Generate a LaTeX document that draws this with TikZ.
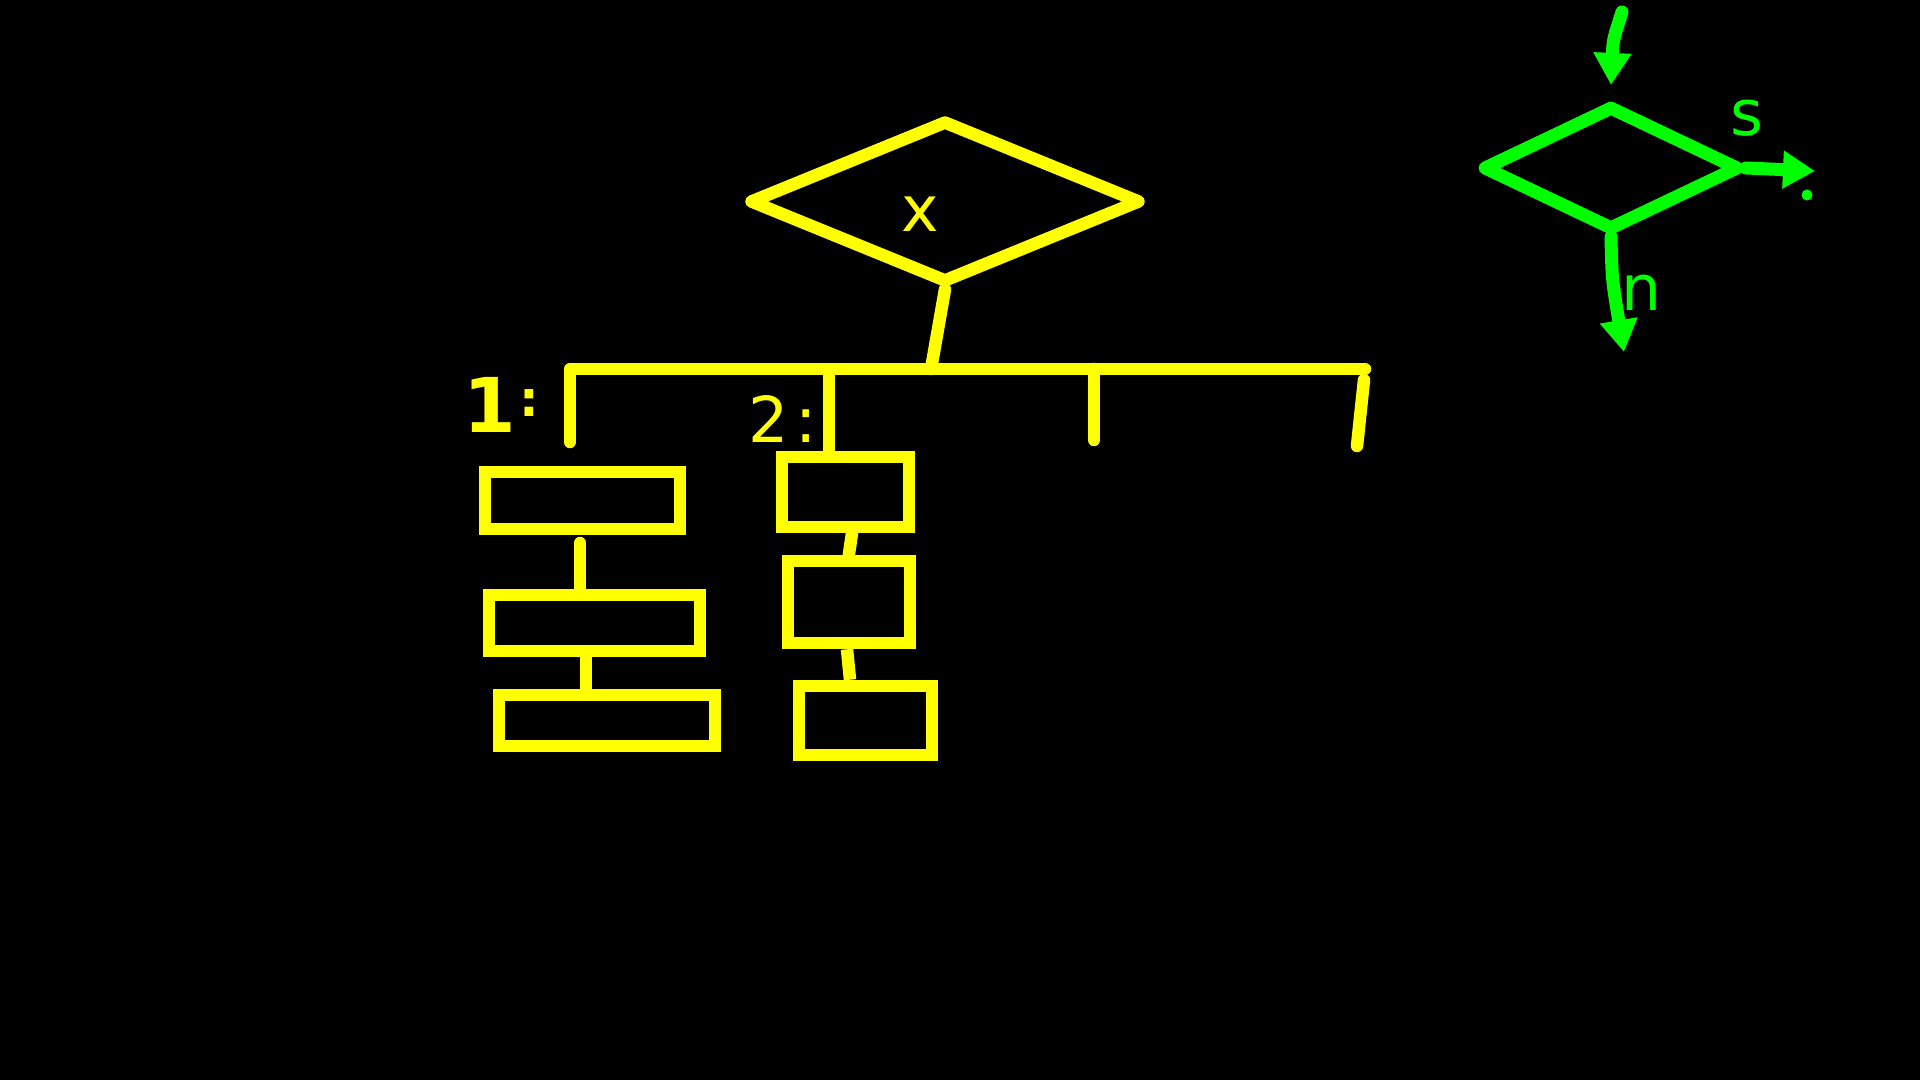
\documentclass[tikz,border=0pt]{standalone}
\usepackage{fontspec}
\setmainfont{DejaVu Sans}
\usetikzlibrary{shapes.geometric,arrows.meta,calc}
\definecolor{yel}{RGB}{255,255,0}
\definecolor{grn}{RGB}{0,255,0}
\begin{document}
\begin{tikzpicture}[x=0.01cm,y=-0.01cm,
  ystroke/.style={draw=yel,line width=0.125cm,line cap=round,line join=round},
  gstroke/.style={draw=grn,line width=0.13cm,line cap=round,line join=round},
  box/.style={ystroke,rectangle,inner sep=0pt,line join=miter,line cap=butt},
  dia/.style={diamond,inner sep=0pt,line join=round},
  ylab/.style={text=yel,font=\fontsize{18}{20}\selectfont,inner sep=0pt},
  glab/.style={text=grn,font=\fontsize{18}{20}\selectfont,inner sep=0pt},
  gtip/.style={-{Triangle[length=0.32cm 0,width=0.36cm 0]}}
]
\fill[black] (0,0) rectangle (1920,1080);
\useasboundingbox (0,0) rectangle (1920,1080);

% yellow decision
\node[dia,ystroke,minimum width=3.92cm,minimum height=1.63cm] (X) at (945,201.5) {};
\node[ylab] (xl) at (920,214) {x};

\coordinate (bj) at (931,369);
\coordinate (barL) at (570,369);
\coordinate (barR) at (1365,369);
\coordinate (v1b) at (570,442);
\coordinate (b2) at (829,369);
\coordinate (b3) at (1094,369);
\coordinate (e3) at (1094,440);
\coordinate (b4t) at (1364,380);
\coordinate (b4b) at (1357,446);

\draw[ystroke] (X.south) -- (bj);
\draw[ystroke] (v1b) -- (barL) -- (barR);
\draw[ystroke] (b3) -- (e3);
\draw[ystroke] (b4t) -- (b4b);

% labels
\node[text=yel,inner sep=0pt,anchor=base west] (l1) at (463,433)
  {{\fontsize{21.5}{24}\selectfont\bfseries 1}{\fontsize{14}{16}\selectfont\bfseries\hspace{1pt}\raisebox{4.6pt}{:}}};
\node[ylab,anchor=base west] (l2) at (748,443) {2\hspace{2pt}:};

% column 1
\node[box,minimum width=1.95cm,minimum height=0.57cm] (A) at (582.5,500.5) {};
\node[box,minimum width=2.11cm,minimum height=0.56cm] (B) at (594.5,623) {};
\node[box,minimum width=2.16cm,minimum height=0.51cm] (C) at (607,720.5) {};
\coordinate (ab) at (580,543);
\coordinate (bc) at (586,651);
\draw[ystroke] (ab) -- (ab |- B.north);
\draw[ystroke,line cap=butt] (bc) -- (bc |- C.north);

% column 2
\node[box,minimum width=1.27cm,minimum height=0.70cm] (D) at (845.5,492) {};
\node[box,minimum width=1.22cm,minimum height=0.82cm] (E) at (849,602) {};
\node[box,minimum width=1.33cm,minimum height=0.69cm] (F) at (865.5,720.5) {};
\draw[ystroke,line cap=butt] (b2) -- (b2 |- D.north);
\draw[ystroke] ($(D.south)+(6.5,0)$) -- ($(E.north)+(-1,6)$);
\draw[ystroke,line cap=butt] ($(E.south)+(-2,0)$) -- ($(F.north)+(-15.5,0)$);

% green decision
\node[dia,gstroke,minimum width=2.57cm,minimum height=1.25cm] (G) at (1611,168) {};
\coordinate (gin) at (1622,12);
\coordinate (gout) at (1815,171);
\coordinate (gdown) at (1624,352);
\draw[gstroke,gtip] (gin) .. controls (1613,40) .. ($(G.north)+(0,-14)$);
\draw[gstroke,gtip] (G.east) -- (gout);
\draw[gstroke,gtip] (G.south) .. controls (1612,280) .. (gdown);
\fill[grn] (1807,195) circle[radius=0.055cm];
\node[glab] (s) at (1747,118) {s};
\node[glab] (n) at (1642,293) {n};
\end{tikzpicture}
\end{document}
